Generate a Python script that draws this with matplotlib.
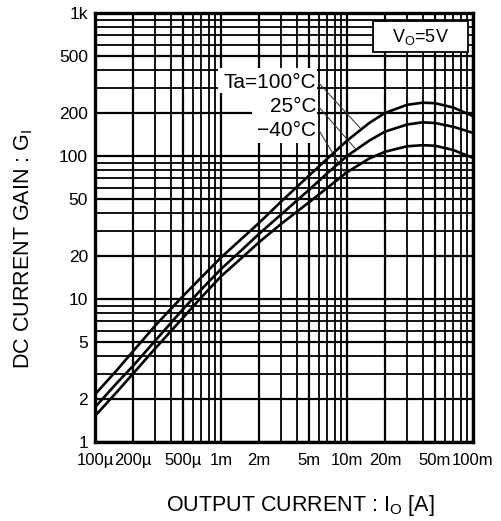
import matplotlib
matplotlib.use("Agg")
import matplotlib.pyplot as plt
from matplotlib.patches import Rectangle
from matplotlib.ticker import LogLocator, NullFormatter

plt.rcParams['font.family'] = ['Liberation Sans', 'DejaVu Sans']
plt.rcParams['mathtext.fontset'] = 'custom'
plt.rcParams['mathtext.rm'] = 'Liberation Sans'

# ---- data ----
current = [100e-6, 150e-6, 200e-6, 300e-6, 500e-6, 700e-6, 1e-3, 1.5e-3, 2e-3, 3e-3,
           5e-3, 7e-3, 10e-3, 15e-3, 20e-3, 30e-3, 40e-3, 50e-3, 70e-3, 100e-3]
gain_100C = [2.15, 3.2, 4.3, 6.5, 10.5, 14.2, 19.5, 27, 34, 48,
             73, 96, 128, 170, 200, 228, 236, 234, 218, 190]
gain_25C = [1.75, 2.6, 3.4, 5.1, 8.5, 11.7, 16.2, 22.5, 28.5, 39,
            58, 76, 100, 128, 148, 166, 172, 170, 160, 145]
gain_m40C = [1.52, 2.25, 3.0, 4.5, 7.4, 10.3, 14.4, 19.8, 24.9, 33.5,
             47.5, 60, 77, 96, 107, 117, 119, 118, 110, 97]

xtick_vals = [100e-6, 200e-6, 500e-6, 1e-3, 2e-3, 5e-3, 10e-3, 20e-3, 50e-3, 100e-3]
xtick_labels = ['100µ', '200µ', '500µ', '1m', '2m', '5m', '10m', '20m', '50m', '100m']
ytick_vals = [1, 2, 5, 10, 20, 50, 100, 200, 500, 1000]
ytick_labels = ['1', '2', '5', '10', '20', '50', '100', '200', '500', '1k']

series_labels = ['Ta=100°C', '25°C', '−40°C']

W, H = 502, 521
fig = plt.figure(figsize=(W / 100, H / 100), dpi=100)
L, R, T, B = 95, 473, 13, 442
ax = fig.add_axes([L / W, (H - B) / H, (R - L) / W, (B - T) / H])
ax.set_xscale('log')
ax.set_yscale('log')
ax.set_xlim(100e-6, 100e-3)
ax.set_ylim(1, 1000)

ax.xaxis.set_minor_locator(LogLocator(base=10, subs=range(2, 10)))
ax.yaxis.set_minor_locator(LogLocator(base=10, subs=range(2, 10)))
ax.xaxis.set_minor_formatter(NullFormatter())
ax.yaxis.set_minor_formatter(NullFormatter())
ax.grid(True, which='major', color='black', lw=1.6, zorder=1)
ax.grid(True, which='minor', color='black', lw=1.3, zorder=1)
ax.set_axisbelow(True)

ax.set_xticks(xtick_vals)
ax.set_xticklabels(xtick_labels, fontsize=12)
ax.set_yticks(ytick_vals)
ax.set_yticklabels(ytick_labels, fontsize=12.5)
ax.tick_params(which='both', length=0, colors='black')
ax.tick_params(axis='x', pad=8)
ax.tick_params(axis='y', pad=5)

for s in ax.spines.values():
    s.set_linewidth(2.4)
    s.set_color('black')
    s.set_zorder(5)

for g in (gain_100C, gain_25C, gain_m40C):
    ax.plot(current, g, color='black', lw=1.9, zorder=4, solid_capstyle='butt')

# white area behind temperature labels
ax.add_patch(Rectangle((0.325, 0.8135), 0.262, 0.0585, transform=ax.transAxes,
                       facecolor='white', edgecolor='none', zorder=2))
ax.add_patch(Rectangle((0.415, 0.697), 0.172, 0.1165, transform=ax.transAxes,
                       facecolor='white', edgecolor='none', zorder=2))

label_y = [0.837, 0.781, 0.727]
leader_end = [(12.7e-3, 157), (11.6e-3, 113), (9.6e-3, 76)]
for lab, yy, end in zip(series_labels, label_y, leader_end):
    ax.text(0.585, yy, lab, transform=ax.transAxes, ha='right', va='center',
            fontsize=15, zorder=6)
    ax.annotate('', xy=end, xycoords='data', xytext=(0.592, yy), textcoords='axes fraction',
                arrowprops=dict(arrowstyle='-', lw=0.75, color='#333333',
                                shrinkA=0, shrinkB=0), zorder=3)

# Vo=5V box
ax.add_patch(Rectangle((0.735, 0.909), 0.252, 0.072, transform=ax.transAxes,
                       facecolor='white', edgecolor='black', lw=1.3, zorder=6))
ax.text(0.861, 0.944, 'V$_\\mathregular{O}$=5V', transform=ax.transAxes,
        ha='center', va='center', fontsize=13, zorder=7)

fig.text(24 / W, 1 - 249 / H, 'DC CURRENT GAIN : G$_\\mathregular{I}$', rotation=90,
         ha='center', va='center', fontsize=15.5)
fig.text(300 / W, 1 - 506 / H, 'OUTPUT CURRENT : I$_\\mathregular{O}$ [A]',
         ha='center', va='center', fontsize=15.5)

fig.savefig('out.png', dpi=100, facecolor='white')
